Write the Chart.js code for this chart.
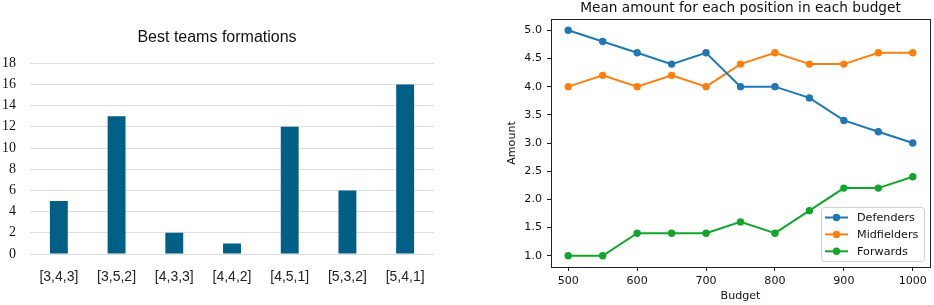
<!DOCTYPE html>
<html>
<head>
<meta charset="utf-8">
<script src="https://cdn.jsdelivr.net/npm/chart.js@4"></script>
<style>
  html, body { margin: 0; padding: 0; background: #fff; }
  body { width: 934px; height: 305px; position: relative; overflow: hidden; }
  #left { position: absolute; left: 0; top: 0; width: 460px; height: 305px; }
  #right { position: absolute; left: 480px; top: 0; width: 454px; height: 305px; }
</style>
</head>
<body>
<div id="left"><canvas id="c1"></canvas></div>
<div id="right"><canvas id="c2"></canvas></div>
<script>
// ---- Left chart data ----
const formations = ['[3,4,3]', '[3,5,2]', '[4,3,3]', '[4,4,2]', '[4,5,1]', '[5,3,2]', '[5,4,1]'];
const formationCounts = [5, 13, 2, 1, 12, 6, 16];

// ---- Right chart data ----
const budgets = [500, 550, 600, 650, 700, 750, 800, 850, 900, 950, 1000];
const defenders   = [5.0, 4.8, 4.6, 4.4, 4.6, 4.0, 4.0, 3.8, 3.4, 3.2, 3.0];
const midfielders = [4.0, 4.2, 4.0, 4.2, 4.0, 4.4, 4.6, 4.4, 4.4, 4.6, 4.6];
const forwards    = [1.0, 1.0, 1.4, 1.4, 1.4, 1.6, 1.4, 1.8, 2.2, 2.2, 2.4];
const budgetTicks = [500, 600, 700, 800, 900, 1000];
const amountTicks = [1.0, 1.5, 2.0, 2.5, 3.0, 3.5, 4.0, 4.5, 5.0];
const rightTitle = 'Mean amount for each position in each budget';

// ---------- Left: bar chart ----------
new Chart(document.getElementById('c1'), {
  type: 'bar',
  data: {
    labels: formations,
    datasets: [{
      data: formationCounts,
      backgroundColor: '#005f85',
      barPercentage: 0.62,
      categoryPercentage: 0.5
    }]
  },
  options: {
    responsive: true,
    maintainAspectRatio: false,
    animation: false,
    layout: { padding: { left: 0, right: 26, top: 0, bottom: 0 } },
    plugins: {
      legend: { display: false },
      tooltip: { enabled: false },
      title: {
        display: true,
        text: 'Best teams formations',
        color: '#111',
        font: { family: 'Liberation Sans', size: 16, weight: 'normal', lineHeight: 1.2 },
        padding: { top: 28, bottom: 16 }
      }
    },
    scales: {
      x: {
        grid: { display: false, drawTicks: false },
        border: { display: false },
        ticks: { color: '#222', padding: 15, font: { family: 'Liberation Sans', size: 14 } },
        afterFit: s => { s.height = 51; }
      },
      y: {
        min: 0, max: 18,
        ticks: { stepSize: 2, color: '#111', padding: 14, font: { family: 'Liberation Serif', size: 14 } },
        grid: { color: '#dedede', lineWidth: 1, drawTicks: false },
        border: { display: false },
        afterFit: s => { s.width = 30; }
      }
    }
  }
});

// ---------- Right: line chart ----------
const toXY = arr => budgets.map((b, i) => ({ x: b, y: arr[i] }));
const seriesColors = ['#1f77b4', '#ff7f0e', '#12a52c'];

const frameAndLegend = {
  id: 'frameAndLegend',
  afterDatasetsDraw(chart) {
    const { ctx, chartArea: a } = chart;
    ctx.save();
    // title centred over the axes
    ctx.fillStyle = '#111';
    ctx.font = '13.7px "DejaVu Sans"';
    ctx.textAlign = 'center';
    ctx.textBaseline = 'middle';
    ctx.fillText(rightTitle, (a.left + a.right) / 2, 8);
    ctx.textAlign = 'left';
    // full axes frame (matplotlib spines)
    ctx.strokeStyle = '#222';
    ctx.lineWidth = 1;
    ctx.strokeRect(Math.round(a.left) + 0.5, Math.round(a.top) + 0.5,
                   Math.round(a.right - a.left), Math.round(a.bottom - a.top));
    // legend box in lower right
    const w = 103, h = 54;
    const bx = a.right - 6 - w, by = a.bottom - 6 - h;
    ctx.beginPath();
    if (ctx.roundRect) ctx.roundRect(bx + 0.5, by + 0.5, w, h, 3); else ctx.rect(bx + 0.5, by + 0.5, w, h);
    ctx.fillStyle = 'rgba(255,255,255,0.85)';
    ctx.fill();
    ctx.strokeStyle = '#d0d0d0';
    ctx.stroke();
    ctx.font = '11.2px "DejaVu Sans"';
    ctx.textBaseline = 'middle';
    chart.data.datasets.forEach((ds, i) => {
      const y = by + 10.5 + i * 16.9;
      ctx.strokeStyle = ds.borderColor;
      ctx.lineWidth = 2;
      ctx.beginPath();
      ctx.moveTo(bx + 4, y);
      ctx.lineTo(bx + 27, y);
      ctx.stroke();
      ctx.fillStyle = ds.borderColor;
      ctx.beginPath();
      ctx.arc(bx + 15.5, y, 3.7, 0, Math.PI * 2);
      ctx.fill();
      ctx.fillStyle = '#111';
      ctx.fillText(ds.label, bx + 36, y + 0.5);
    });
    ctx.restore();
  }
};

const mk = (label, arr, color) => ({
  label, data: toXY(arr),
  borderColor: color, backgroundColor: color,
  borderWidth: 2, pointRadius: 3.7, pointBorderWidth: 0,
  pointBackgroundColor: color, tension: 0, clip: false
});

new Chart(document.getElementById('c2'), {
  type: 'line',
  data: {
    datasets: [
      mk('Defenders', defenders, seriesColors[0]),
      mk('Midfielders', midfielders, seriesColors[1]),
      mk('Forwards', forwards, seriesColors[2])
    ]
  },
  options: {
    responsive: true,
    maintainAspectRatio: false,
    animation: false,
    layout: { padding: { left: 0, right: 2, top: 19, bottom: 0 } },
    plugins: {
      legend: { display: false },
      tooltip: { enabled: false },
      title: { display: false }
    },
    scales: {
      x: {
        type: 'linear',
        min: 475, max: 1025,
        afterBuildTicks: s => { s.ticks = budgetTicks.map(v => ({ value: v })); },
        ticks: {
          color: '#111', padding: 3, font: { family: 'DejaVu Sans', size: 11.1 },
          callback: v => String(v)
        },
        grid: { drawOnChartArea: false, drawTicks: true, tickLength: 4, color: '#222' },
        border: { display: true, color: '#222' },
        title: {
          display: true, text: 'Budget', color: '#111',
          font: { family: 'DejaVu Sans', size: 11.1 },
          padding: { top: 0, bottom: 2 }
        },
        afterFit: s => { s.height = 38; }
      },
      y: {
        min: 0.8, max: 5.2,
        afterBuildTicks: s => { s.ticks = amountTicks.map(v => ({ value: v })); },
        ticks: {
          color: '#111', padding: 5, font: { family: 'DejaVu Sans', size: 11.1 },
          callback: v => Number(v).toFixed(1)
        },
        grid: { drawOnChartArea: false, drawTicks: true, tickLength: 4, color: '#222' },
        border: { display: true, color: '#222' },
        title: {
          display: true, text: 'Amount', color: '#111',
          font: { family: 'DejaVu Sans', size: 11.1 },
          padding: { top: 25, bottom: 0 }
        },
        afterFit: s => { s.width = 71; }
      }
    }
  },
  plugins: [frameAndLegend]
});
</script>
</body>
</html>
